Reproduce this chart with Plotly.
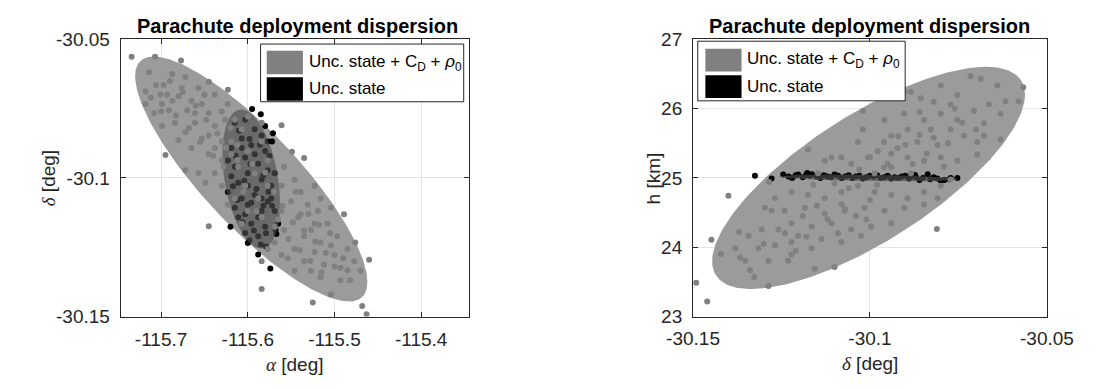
import numpy as np
import plotly.graph_objects as go

# ---------------- data ----------------
# Left panel: alpha [deg] vs delta [deg]
left_gray_alpha = [
    -115.734, -115.707, -115.677, -115.695, -115.718, -115.706, -115.697, -115.687, -115.672, -115.701,
    -115.680, -115.665, -115.653, -115.645, -115.670, -115.691, -115.708, -115.684, -115.661, -115.638,
    -115.672, -115.653, -115.680, -115.630, -115.699, -115.665, -115.645, -115.623, -115.615, -115.657,
    -115.638, -115.623, -115.718, -115.687, -115.676, -115.645, -115.630, -115.638, -115.657, -115.672,
    -115.649, -115.630, -115.619, -115.607, -115.600, -115.611, -115.592, -115.603, -115.615, -115.588,
    -115.600, -115.584, -115.607, -115.623, -115.584, -115.577, -115.584, -115.561, -115.549, -115.535,
    -115.558, -115.546, -115.561, -115.539, -115.523, -115.550, -115.531, -115.516, -115.561, -115.542,
    -115.523, -115.504, -115.508, -115.558, -115.535, -115.516, -115.497, -115.546, -115.523, -115.500,
    -115.485, -115.554, -115.535, -115.512, -115.493, -115.485, -115.476, -115.460, -115.504, -115.525,
    -115.468, -115.463, -115.584, -115.645, -115.493, -115.482, -115.516, -115.527, -115.546, -115.569,
    -115.561, -115.489, -115.569, -115.577, -115.527, -115.504, -115.477, -115.584, -115.577, -115.714,
    -115.661, -115.699, -115.638, -115.619, -115.626, -115.645, -115.600, -115.470, -115.539, -115.519,
    -115.690, -115.675, -115.660, -115.648, -115.635, -115.625, -115.612, -115.683, -115.668, -115.655,
    -115.640, -115.628, -115.700, -115.712, -115.693, -115.650, -115.630, -115.620, -115.560, -115.548,
    -115.535, -115.522, -115.510, -115.553, -115.540, -115.528, -115.515, -115.500, -115.490, -115.570,
    -115.565, -115.545, -115.530, -115.505, -115.518, -115.595, -115.605, -115.590, -115.612, -115.580,
]
left_gray_delta = [
    -30.0563, -30.0563, -30.0576, -30.0917, -30.0688, -30.0665, -30.0665, -30.0625, -30.0636, -30.0699,
    -30.0705, -30.0722, -30.0733, -30.0767, -30.0756, -30.0756, -30.0767, -30.0801, -30.0801, -30.0813,
    -30.0835, -30.0858, -30.0864, -30.0869, -30.0813, -30.0892, -30.0915, -30.0733, -30.0790, -30.0676,
    -30.0699, -30.0682, -30.0733, -30.0722, -30.0676, -30.0847, -30.0937, -30.0983, -30.0983, -30.0972,
    -30.1017, -30.1028, -30.0869, -30.0824, -30.0903, -30.0960, -30.0983, -30.1028, -30.1074, -30.1074,
    -30.1119, -30.1142, -30.1165, -30.1097, -30.0869, -30.0937, -30.0801, -30.0810, -30.0906, -30.0928,
    -30.0960, -30.1006, -30.1028, -30.1051, -30.1028, -30.1085, -30.1097, -30.1074, -30.1119, -30.1142,
    -30.1165, -30.1108, -30.1165, -30.1188, -30.1210, -30.1233, -30.1210, -30.1256, -30.1267, -30.1278,
    -30.1256, -30.1290, -30.1301, -30.1313, -30.1324, -30.1333, -30.1233, -30.1295, -30.1420, -30.1449,
    -30.1462, -30.1492, -30.1401, -30.1174, -30.1369, -30.1369, -30.1358, -30.1335, -30.1335, -30.1233,
    -30.1278, -30.1131, -30.1176, -30.1028, -30.1188, -30.1244, -30.1301, -30.1301, -30.1256, -30.0619,
    -30.0767, -30.0733, -30.0892, -30.0915, -30.0790, -30.0653, -30.0778, -30.1335, -30.1131, -30.1119,
    -30.0650, -30.0690, -30.0740, -30.0790, -30.0840, -30.0890, -30.0935, -30.0775, -30.0820, -30.0870,
    -30.0920, -30.0960, -30.0760, -30.0710, -30.0700, -30.0700, -30.0760, -30.0820, -30.1100, -30.1160,
    -30.1190, -30.1230, -30.1270, -30.1220, -30.1260, -30.1300, -30.1340, -30.1320, -30.1290, -30.1050,
    -30.1150, -30.1050, -30.1130, -30.1200, -30.1170, -30.0950, -30.1050, -30.1120, -30.0880, -30.0980,
]
left_black_alpha = [
    -115.595, -115.585, -115.571, -115.572, -115.565, -115.568, -115.567, -115.579, -115.574, -115.588,
    -115.600, -115.620, -115.615, -115.603, -115.592, -115.584, -115.607, -115.619, -115.596, -115.580,
    -115.623, -115.603, -115.588, -115.577, -115.619, -115.600, -115.584, -115.573, -115.623, -115.607,
    -115.592, -115.577, -115.615, -115.600, -115.584, -115.569, -115.611, -115.596, -115.580, -115.603,
    -115.588, -115.573, -115.577, -115.607, -115.592, -115.615, -115.584, -115.569, -115.600, -115.611,
    -115.588, -115.603, -115.580,
    -115.610, -115.598, -115.586, -115.575, -115.614, -115.597, -115.582, -115.617, -115.604, -115.590,
    -115.576, -115.612, -115.596, -115.582, -115.572, -115.606, -115.593, -115.579, -115.598, -115.585,
]
left_black_delta = [
    -30.0751, -30.0770, -30.0839, -30.0869, -30.1165, -30.1188, -30.1202, -30.1247, -30.1327, -30.1276,
    -30.1235, -30.1176, -30.0801, -30.0790, -30.0824, -30.0847, -30.0858, -30.0892, -30.0881, -30.0903,
    -30.0937, -30.0926, -30.0949, -30.0972, -30.0994, -30.0983, -30.1006, -30.1028, -30.1051, -30.1074,
    -30.1062, -30.1085, -30.1108, -30.1097, -30.1119, -30.1119, -30.1142, -30.1165, -30.1176, -30.1199,
    -30.1210, -30.1074, -30.0869, -30.0892, -30.0915, -30.0960, -30.1074, -30.0983, -30.1028, -30.1017,
    -30.1142, -30.1131, -30.0813,
    -30.0830, -30.0860, -30.0880, -30.0920, -30.0920, -30.0950, -30.0990, -30.1030, -30.1010, -30.1040,
    -30.1050, -30.1080, -30.1090, -30.1100, -30.1100, -30.1160, -30.1190, -30.1200, -30.1225, -30.1240,
]

# Right panel: delta [deg] vs h [km]
right_gray_delta = [
    -30.1491, -30.1460, -30.1448, -30.1421, -30.1400, -30.1285, -30.1287, -30.1327, -30.1370, -30.1367,
    -30.1353, -30.1339, -30.1315, -30.1278, -30.1259, -30.1231, -30.1222, -30.1156, -30.1100, -30.1175,
    -30.1128, -30.1020, -30.1020, -30.0811, -30.0631, -30.0567, -30.0716, -30.0687, -30.0640, -30.0617,
    -30.0580, -30.0903, -30.0856, -30.0753, -30.0772, -30.0800, -30.0753, -30.0706, -30.0664, -30.0734,
    -30.0847, -30.0894, -30.0940, -30.0978, -30.0922, -30.0866, -30.0809, -30.0772, -30.0847, -30.0894,
    -30.0950, -30.1006, -30.1053, -30.1081, -30.1034, -30.0791, -30.0753, -30.0697, -30.0678, -30.0800,
    -30.0847, -30.0894, -30.0940, -30.0987, -30.1034, -30.1081, -30.1128, -30.1175, -30.1222, -30.1268,
    -30.1297, -30.1241, -30.1184, -30.1128, -30.1072, -30.1015, -30.0959, -30.0903, -30.0847, -30.1222,
    -30.1165, -30.1109, -30.1053, -30.0997, -30.0940, -30.1203, -30.1137, -30.1081, -30.1025, -30.1268,
    -30.1287, -30.1222, -30.1165, -30.1381, -30.1343, -30.1306, -30.0940, -30.0987, -30.0884, -30.1147,
    -30.1109, -30.0697, -30.0772, -30.0678, -30.0903, -30.0959, -30.0828, -30.0884, -30.0800, -30.0631,
    -30.0809,
    -30.1120, -30.1080, -30.1040, -30.1000, -30.1150, -30.1190, -30.1060, -30.1100, -30.1160, -30.0980,
    -30.0940, -30.0900, -30.0860, -30.0820, -30.0880, -30.0840, -30.0800, -30.0920, -30.0960, -30.0780,
    -30.1240, -30.1180, -30.1300, -30.1210, -30.1090, -30.0740, -30.0700, -30.0760, -30.0820, -30.0860,
    -30.1030, -30.1000, -30.0960, -30.1070, -30.1010,
]
right_gray_h = [
    23.488, 23.217, 24.106, 23.903, 24.743, 24.941, 23.442, 23.569, 24.219, 23.849,
    23.804, 23.668, 23.984, 24.526, 24.255, 23.804, 24.074, 23.691, 23.713, 25.406,
    25.248, 25.962, 25.700, 24.264, 25.555, 26.309, 26.467, 26.431, 26.332, 26.106,
    26.106, 26.242, 26.151, 26.196, 26.061, 25.926, 25.835, 25.971, 26.061, 25.609,
    25.835, 25.700, 25.609, 25.384, 25.429, 25.519, 25.474, 25.700, 25.248, 25.293,
    25.203, 25.293, 25.203, 25.293, 25.519, 25.158, 25.248, 25.519, 25.790, 24.887,
    24.797, 24.707, 24.752, 24.797, 24.887, 24.797, 24.707, 24.752, 24.797, 24.707,
    24.571, 24.526, 24.571, 24.481, 24.526, 24.571, 24.526, 24.571, 24.616, 24.345,
    24.300, 24.345, 24.255, 24.300, 24.345, 24.165, 24.120, 24.074, 24.165, 24.029,
    23.804, 23.894, 23.984, 23.984, 24.165, 24.255, 25.158, 25.068, 25.068, 25.068,
    25.293, 25.339, 24.977, 25.609, 25.926, 25.835, 25.700, 26.242, 26.332, 25.926,
    24.707,
    24.40, 24.62, 24.45, 24.68, 24.60, 24.45, 24.85, 24.92, 24.90, 24.90,
    25.35, 25.48, 25.62, 25.58, 25.20, 25.35, 25.30, 25.60, 25.52, 25.50,
    24.20, 24.15, 24.05, 23.95, 24.20, 25.80, 25.70, 26.00, 26.10, 25.95,
    25.12, 25.30, 25.15, 24.55, 24.40,
]
right_black_delta = [
    -30.1325, -30.1278, -30.1245, -30.1203, -30.1177, -30.1164, -30.0873, -30.0837, -30.0772, -30.0753,
    -30.1230, -30.1210, -30.1190, -30.1170, -30.1150, -30.1130, -30.1110, -30.1090, -30.1070, -30.1050,
    -30.1030, -30.1010, -30.0990, -30.0970, -30.0950, -30.0930, -30.0910, -30.0890, -30.0870, -30.0850,
    -30.0830, -30.0810, -30.0790, -30.0775, -30.1220, -30.1180, -30.1140, -30.1100, -30.1060, -30.1020,
    -30.0980, -30.0940, -30.0900, -30.0860, -30.0820, -30.0800, -30.1120, -30.1080, -30.1040, -30.1000,
    -30.0960, -30.0920, -30.0880,
]
right_black_h = [
    25.032, 24.991, 25.050, 25.050, 25.072, 25.054, 25.041, 25.054, 25.000, 25.000,
    25.02, 25.04, 25.01, 25.03, 25.02, 25.04, 25.01, 25.03, 25.02, 25.00,
    25.03, 25.01, 25.02, 25.00, 25.03, 25.01, 25.02, 24.99, 25.01, 25.00,
    24.98, 24.99, 24.97, 24.98, 25.00, 25.05, 25.00, 25.05, 25.04, 24.99,
    25.04, 24.99, 25.03, 24.97, 25.01, 24.96, 25.02, 25.00, 25.02, 25.03,
    25.01, 25.00, 25.02,
]

# Dispersion ellipses: [centre x, centre y, sigma x, sigma y, correlation]
left_big_ellipse = [-115.596, -30.1004, 0.134, 0.0442, -0.84]
left_small_ellipse = [-115.596, -30.1004, 0.0333, 0.0251, -0.35]
right_big_ellipse = [-30.1004, 25.0, 0.0442, 1.603, 0.75]
right_small_ellipse = [-30.1004, 25.0, 0.0251, 0.05, -0.4]

left_xticks = [-115.7, -115.6, -115.5, -115.4]
left_xticklabels = ["-115.7", "-115.6", "-115.5", "-115.4"]
left_yticks = [-30.15, -30.1, -30.05]
left_yticklabels = ["-30.15", "-30.1", "-30.05"]
right_xticks = [-30.15, -30.1, -30.05]
right_xticklabels = ["-30.15", "-30.1", "-30.05"]
right_yticks = [23, 24, 25, 26, 27]
right_yticklabels = ["23", "24", "25", "26", "27"]

legend_labels = ["Unc. state + C<sub>D</sub> + <i>ρ</i><sub>0</sub>", "Unc. state"]
chart_title = "Parachute deployment dispersion"

# ---------------- styling ----------------
W, H = 1112, 389
FONT = "Liberation Sans, Arial, sans-serif"
TXT = "#262626"
GRAY_PT = "#808080"
BIG_FILL = "#9b9b9b"
SMALL_FILL = "rgba(80,80,80,0.65)"


def ellipse(p, n=240):
    xc, yc, sx, sy, rho = p
    t = np.linspace(0, 2 * np.pi, n)
    x = xc + sx * np.cos(t)
    y = yc + sy * (rho * np.cos(t) + np.sqrt(1 - rho ** 2) * np.sin(t))
    return x, y


def px(x):
    return x / W


def py(y):
    return 1 - y / H


fig = go.Figure()

panels = [
    ("x", "y", left_big_ellipse, left_small_ellipse,
     left_gray_alpha, left_gray_delta, left_black_alpha, left_black_delta),
    ("x2", "y2", right_big_ellipse, right_small_ellipse,
     right_gray_delta, right_gray_h, right_black_delta, right_black_h),
]
for xa, ya, big, small, gx, gy, bx, by in panels:
    ex, ey = ellipse(big)
    fig.add_trace(go.Scatter(x=ex, y=ey, mode="lines", fill="toself", fillcolor=BIG_FILL,
                             line=dict(width=0, color=BIG_FILL), xaxis=xa, yaxis=ya,
                             showlegend=False, hoverinfo="skip"))
    fig.add_trace(go.Scatter(x=bx, y=by, mode="markers", marker=dict(size=6, color="#000000"),
                             xaxis=xa, yaxis=ya, showlegend=False))
    sx_, sy_ = ellipse(small)
    fig.add_trace(go.Scatter(x=sx_, y=sy_, mode="lines", fill="toself", fillcolor=SMALL_FILL,
                             line=dict(width=0, color=SMALL_FILL), xaxis=xa, yaxis=ya,
                             showlegend=False, hoverinfo="skip"))
    fig.add_trace(go.Scatter(x=gx, y=gy, mode="markers", marker=dict(size=6, color=GRAY_PT),
                             xaxis=xa, yaxis=ya, showlegend=False))

axis_common = dict(
    showline=True, linecolor=TXT, linewidth=1, mirror="allticks",
    ticks="inside", ticklen=5, tickcolor=TXT, tickwidth=1,
    showgrid=True, gridcolor="#e4e4e4", gridwidth=1, zeroline=False,
    tickfont=dict(family=FONT, size=19, color=TXT),
)

# plot areas (pixels)
L = (98.5, 465)
R = (700, 1072)
TOP, BOT = 31, 324

fig.update_layout(
    width=W, height=H, margin=dict(l=0, r=0, t=0, b=0),
    paper_bgcolor="white", plot_bgcolor="white", showlegend=False,
    xaxis=dict(domain=[px(L[0]), px(L[1])], range=[-115.7466, -115.3443], anchor="y",
               tickvals=left_xticks, ticktext=left_xticklabels, ticklabelstandoff=6, **axis_common),
    yaxis=dict(domain=[py(BOT), py(TOP)], range=[-30.15, -30.05], anchor="x",
               tickvals=left_yticks, ticktext=left_yticklabels, ticklabelstandoff=6, **axis_common),
    xaxis2=dict(domain=[px(R[0]), px(R[1])], range=[-30.15, -30.05], anchor="y2",
                tickvals=right_xticks, ticktext=right_xticklabels, ticklabelstandoff=5, **axis_common),
    yaxis2=dict(domain=[py(BOT), py(TOP)], range=[23, 27], anchor="x2",
                tickvals=right_yticks, ticktext=right_yticklabels, ticklabelstandoff=6, **axis_common),
)

serif = "<span style=\"font-family:'Liberation Serif', 'DejaVu Serif', serif\"><i>{}</i></span>"
annots = [
    # titles
    dict(x=px(284), y=py(17), text="<b>" + chart_title + "</b>", size=20),
    dict(x=px((R[0] + R[1]) / 2), y=py(17), text="<b>" + chart_title + "</b>", size=20),
    # axis titles
    dict(x=px((L[0] + L[1]) / 2), y=py(375), text=serif.format("α") + " [deg]", size=19),
    dict(x=px((R[0] + R[1]) / 2), y=py(374), text=serif.format("δ") + " [deg]", size=19),
    dict(x=px(23), y=py(178), text=serif.format("δ") + " [deg]", size=19, angle=-90),
    dict(x=px(658), y=py(178), text="h [km]", size=19, angle=-90),
]
for a in annots:
    fig.add_annotation(x=a["x"], y=a["y"], xref="paper", yref="paper", text=a["text"],
                       showarrow=False, xanchor="center", yanchor="middle",
                       textangle=a.get("angle", 0),
                       font=dict(family=FONT, size=a["size"], color="#000000" if "<b>" in a["text"] else TXT))

# manual legends (box, swatches, labels)
legends = [
    dict(box=(245.5, 36, 459, 97), sw=(252, 290), rows=[(43, 68), (71, 96)], tx=294),
    dict(box=(705, 33, 923, 96), sw=(713, 751), rows=[(41, 65), (69, 93)], tx=755),
]
swatch_colors = [GRAY_PT, "#000000"]
for lg in legends:
    x0, y0, x1, y1 = lg["box"]
    fig.add_shape(type="rect", xref="paper", yref="paper", x0=px(x0), x1=px(x1), y0=py(y1), y1=py(y0),
                  line=dict(color=TXT, width=1), fillcolor="white", layer="above")
    for (r0, r1), col, lab in zip(lg["rows"], swatch_colors, legend_labels):
        fig.add_shape(type="rect", xref="paper", yref="paper", x0=px(lg["sw"][0]), x1=px(lg["sw"][1]),
                      y0=py(r1), y1=py(r0), line=dict(width=0), fillcolor=col, layer="above")
        fig.add_annotation(x=px(lg["tx"]), y=py((r0 + r1) / 2), xref="paper", yref="paper",
                           text=lab, showarrow=False, xanchor="left", yanchor="middle",
                           font=dict(family=FONT, size=17, color="#000000"))

fig.write_html("out.html")
